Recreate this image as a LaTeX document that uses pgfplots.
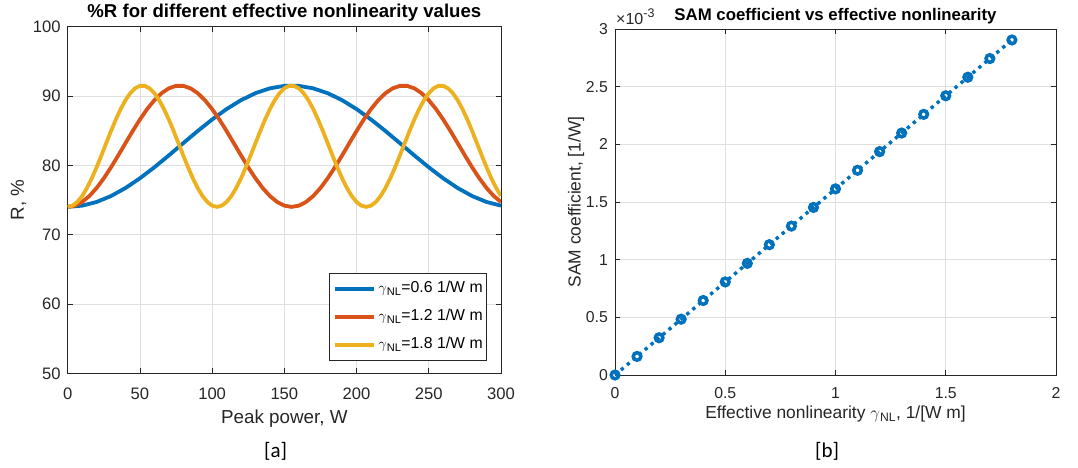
\documentclass[border=0pt]{standalone}
\usepackage{fontspec}
\setmainfont{Liberation Sans}
\newfontfamily\labfont{Carlito}
\usepackage{pgfplots}
\pgfplotsset{compat=1.18}
\definecolor{mblue}{RGB}{0,114,189}
\definecolor{mred}{RGB}{217,83,25}
\definecolor{myellow}{RGB}{237,177,32}
\definecolor{axgray}{RGB}{38,38,38}
\definecolor{gridgray}{RGB}{223,223,223}
\newcommand{\gnl}{$\gamma$\textsubscript{NL}}
\pgfplotsset{
  every axis title shift=0pt,
  mat/.style={
    scale only axis,
    axis line style={draw=axgray, line width=0.6pt},
    every tick/.style={draw=axgray, line width=0.6pt},
    major tick length=5pt,
    tick align=inside,
    tick pos=both,
    grid=major,
    major grid style={draw=gridgray, line width=0.6pt},
    /pgf/number format/assume math mode=true,
    tick label style={text=axgray},
    label style={text=axgray},
    title style={text=black},
    clip=true,
  }
}
\begin{document}
\begin{tikzpicture}
\useasboundingbox (0pt,0pt) rectangle (1078pt,-467pt);
% ---------------- left panel ----------------
\begin{axis}[mat,
  at={(67.7pt,-373.3pt)}, anchor=south west,
  width=433.3pt, height=346.7pt,
  xmin=0, xmax=300, ymin=50, ymax=100,
  xtick={0,50,...,300}, ytick={50,60,...,100},
  tick label style={font=\fontsize{16.6}{19}\selectfont},
  xticklabel style={inner sep=0pt, anchor=north, yshift=-14pt},
  yticklabel style={inner sep=0pt, anchor=east, xshift=-7pt},
  xlabel={Peak power, W},
  ylabel={R, \%},
  xlabel style={font=\fontsize{18.8}{22}\selectfont, inner sep=0pt, at={(axis description cs:0.5,-0.144)}, anchor=base},
  ylabel style={font=\fontsize{18.8}{22}\selectfont, inner sep=0pt, at={(axis description cs:-0.101,0.5)}, anchor=base, rotate=0},
  title={\textbf{\%R for different effective nonlinearity values}},
  title style={font=\fontsize{18.6}{22}\selectfont, inner sep=0pt, at={(axis description cs:0.5,1.027)}, anchor=base},
  legend cell align=left,
  legend image code/.code={\draw[#1] (0pt,0pt) -- (39pt,0pt);},
  legend style={at={(axis description cs:0.9677,0.289)}, anchor=north east,
    draw=axgray, line width=0.6pt, fill=white,
    font=\fontsize{15.8}{18}\selectfont,
    inner xsep=4pt, inner ysep=8pt, row sep=13pt, column sep=3pt,
    nodes={inner sep=0pt, text height=11pt, text depth=4pt, text=black}},
]
\addplot[mblue, line width=3.8pt] coordinates {
(0,74.000)(10,74.179)(20,74.709)(30,75.568)(40,76.722)(50,78.122)(60,79.711)(70,81.425)(80,83.193)(90,84.943)(100,86.604)(110,88.106)(120,89.389)(130,90.401)(140,91.099)(150,91.455)(160,91.455)(170,91.099)(180,90.401)(190,89.389)(200,88.106)(210,86.604)(220,84.943)(230,83.193)(240,81.425)(250,79.711)(260,78.122)(270,76.722)(280,75.568)(290,74.709)(300,74.179)};
\addlegendentry{\gnl=0.6 1/W m}
\addplot[mred, line width=3.8pt] coordinates {
(0,74.000)(5,74.179)(10,74.709)(15,75.568)(20,76.722)(25,78.122)(30,79.711)(35,81.425)(40,83.193)(45,84.943)(50,86.604)(55,88.106)(60,89.389)(65,90.401)(70,91.099)(75,91.455)(80,91.455)(85,91.099)(90,90.401)(95,89.389)(100,88.106)(105,86.604)(110,84.943)(115,83.193)(120,81.425)(125,79.711)(130,78.122)(135,76.722)(140,75.568)(145,74.709)(150,74.179)
(155,74.000)(160,74.179)(165,74.709)(170,75.568)(175,76.722)(180,78.122)(185,79.711)(190,81.425)(195,83.193)(200,84.943)(205,86.604)(210,88.106)(215,89.389)(220,90.401)(225,91.099)(230,91.455)(235,91.455)(240,91.099)(245,90.401)(250,89.389)(255,88.106)(260,86.604)(265,84.943)(270,83.193)(275,81.425)(280,79.711)(285,78.122)(290,76.722)(295,75.568)(300,74.709)};
\addlegendentry{\gnl=1.2 1/W m}
\addplot[myellow, line width=3.8pt] coordinates {
(0,74.000)(3.333,74.179)(6.667,74.709)(10,75.568)(13.333,76.722)(16.667,78.122)(20,79.711)(23.333,81.425)(26.667,83.193)(30,84.943)(33.333,86.604)(36.667,88.106)(40,89.389)(43.333,90.401)(46.667,91.099)(50,91.455)(53.333,91.455)(56.667,91.099)(60,90.401)(63.333,89.389)(66.667,88.106)(70,86.604)(73.333,84.943)(76.667,83.193)(80,81.425)(83.333,79.711)(86.667,78.122)(90,76.722)(93.333,75.568)(96.667,74.709)(100,74.179)
(103.333,74.000)(106.667,74.179)(110,74.709)(113.333,75.568)(116.667,76.722)(120,78.122)(123.333,79.711)(126.667,81.425)(130,83.193)(133.333,84.943)(136.667,86.604)(140,88.106)(143.333,89.389)(146.667,90.401)(150,91.099)(153.333,91.455)(156.667,91.455)(160,91.099)(163.333,90.401)(166.667,89.389)(170,88.106)(173.333,86.604)(176.667,84.943)(180,83.193)(183.333,81.425)(186.667,79.711)(190,78.122)(193.333,76.722)(196.667,75.568)(200,74.709)(203.333,74.179)
(206.667,74.000)(210,74.179)(213.333,74.709)(216.667,75.568)(220,76.722)(223.333,78.122)(226.667,79.711)(230,81.425)(233.333,83.193)(236.667,84.943)(240,86.604)(243.333,88.106)(246.667,89.389)(250,90.401)(253.333,91.099)(256.667,91.455)(260,91.455)(263.333,91.099)(266.667,90.401)(270,89.389)(273.333,88.106)(276.667,86.604)(280,84.943)(283.333,83.193)(286.667,81.425)(290,79.711)(293.333,78.122)(296.667,76.722)(300,75.568)};
\addlegendentry{\gnl=1.8 1/W m}
\end{axis}
% ---------------- right panel ----------------
\begin{axis}[mat,
  at={(615pt,-375pt)}, anchor=south west,
  width=441pt, height=346pt,
  xmin=0, xmax=2, ymin=0, ymax=3,
  xtick={0,0.5,...,2}, ytick={0,0.5,...,3},
  tick label style={font=\fontsize{15.8}{18}\selectfont},
  xticklabel style={inner sep=0pt, anchor=north, yshift=-12pt},
  yticklabel style={inner sep=0pt, anchor=east, xshift=-7pt},
  xlabel={Effective nonlinearity \gnl, 1/[W m]},
  ylabel={SAM coefficient, [1/W]},
  xlabel style={font=\fontsize{17.4}{21}\selectfont, inner sep=0pt, at={(axis description cs:0.5,-0.127)}, anchor=base},
  ylabel style={font=\fontsize{17.4}{21}\selectfont, inner sep=0pt, at={(axis description cs:-0.078,0.5)}, anchor=base, rotate=0},
  title={\textbf{SAM coefficient vs effective nonlinearity}},
  title style={font=\fontsize{16.8}{20}\selectfont, inner sep=0pt, at={(axis description cs:0.5,1.024)}, anchor=base},
  clip=false,
]
\addplot[mblue, line width=3.4pt, dash pattern=on 3.4pt off 4.4pt,
  mark=o, mark size=3.8pt, mark options={solid, line width=3.5pt}] coordinates {
(0,0)(0.1,0.161)(0.2,0.323)(0.3,0.484)(0.4,0.646)(0.5,0.807)(0.6,0.968)(0.7,1.130)(0.8,1.291)(0.9,1.453)(1.0,1.614)(1.1,1.775)(1.2,1.937)(1.3,2.098)(1.4,2.260)(1.5,2.421)(1.6,2.582)(1.7,2.744)(1.8,2.905)};
\end{axis}
\node[anchor=base west, inner sep=0pt, text=axgray, font=\fontsize{16}{18}\selectfont] at (616pt,-24pt) {×10\raisebox{7pt}{\fontsize{12.5}{14}\selectfont -3}};
\node[anchor=base, inner sep=0pt, font=\labfont\fontsize{21}{25}\selectfont] at (275.7pt,-457pt) {[a]};
\node[anchor=base, inner sep=0pt, font=\labfont\fontsize{21}{25}\selectfont] at (827pt,-457pt) {[b]};
\end{tikzpicture}
\end{document}
